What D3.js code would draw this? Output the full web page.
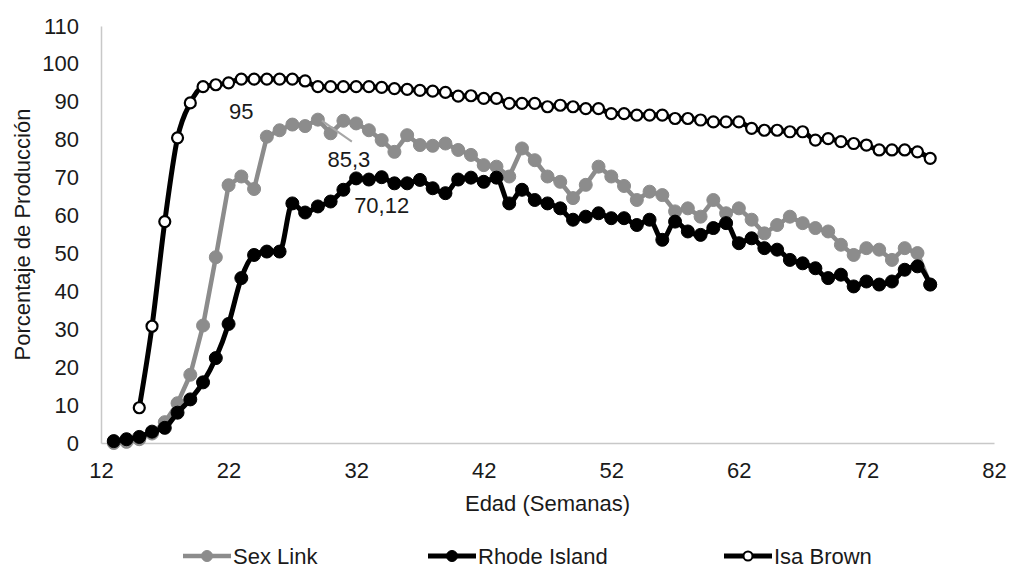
<!DOCTYPE html>
<html>
<head>
<meta charset="utf-8">
<script src="https://cdn.jsdelivr.net/npm/d3@7"></script>
<style>
  body { margin: 0; background: #fff; }
  svg text { font-family: "Liberation Sans", Arial, sans-serif; fill: #1a1a1a; }
</style>
</head>
<body>
<svg id="chart" width="1012" height="569"></svg>
<script>
// weeks of age for each series
const weeksSexLink = d3.range(13, 78);
const weeksRhode = d3.range(13, 78);
const weeksIsa = d3.range(15, 78);

const sexLink = [0, 0.3, 1, 2.5, 5.5, 10.5, 18, 31, 49, 68, 70.3, 67, 80.8, 82.5, 84, 83.6, 85.3, 81.7, 85, 84.3,
  82.5, 79.9, 76.8, 81.2, 78.6, 78.4, 79, 77.3, 76, 73.3, 72.9, 70.3, 77.7, 74.6, 70.3, 68.9, 64.6, 68.1, 72.9, 70.3,
  67.8, 64.1, 66.3, 65.4, 61.1, 61.9, 59.7, 64.1, 60.6, 61.9, 58.9, 55.3, 57.5, 59.7, 58, 56.7, 55.8, 52.3, 49.6, 51.4,
  51, 48.3, 51.4, 50.1, 41.8];

const rhodeIsland = [0.5, 1, 1.6, 3, 4, 8, 11.5, 16, 22.4, 31.4, 43.5, 49.6, 50.5, 50.5, 63.2, 60.8, 62.4, 63.7, 66.8, 69.8,
  69.5, 70.12, 68.5, 68.5, 69.4, 67.2, 65.9, 69.5, 70, 68.9, 70, 63.2, 66.8, 64.1, 63.2, 61.9, 58.9, 59.7, 60.6, 59.3,
  59.3, 57.5, 58.9, 53.6, 58.4, 55.8, 54.9, 56.7, 58, 52.7, 54, 51.4, 51, 48.3, 47.4, 46.1, 43.5, 44.4, 41.3, 42.6,
  41.8, 42.6, 45.7, 46.6, 41.8];

const isaBrown = [9.3, 30.8, 58.4, 80.5, 89.7, 94, 94.5, 95, 96, 96, 96, 96, 96, 95.5, 94, 94, 94, 94, 94, 93.8,
  93.5, 93.3, 93, 92.8, 92.5, 91.5, 91.6, 90.9, 90.9, 89.6, 89.6, 89.6, 88.7, 89.1, 88.7, 88.2, 88.2, 86.9, 86.9, 86.5,
  86.5, 86.5, 85.6, 85.6, 85.2, 84.7, 84.7, 84.7, 83, 82.5, 82.5, 82.1, 82.1, 79.9, 80.3, 79.5, 79, 78.6, 77.3, 77.3,
  77.3, 76.8, 75.1];

const xTicks = [12, 22, 32, 42, 52, 62, 72, 82];
const yTicks = d3.range(0, 111, 10);

// data labels: text, series, week
const labelText = ["95", "85,3", "70,12"];
const labelWeek = [23, 29, 34];

const svg = d3.select("#chart");
const gray = "#8c8c8c";

const x = d3.scaleLinear().domain([12, 82]).range([101, 994]);
const y = d3.scaleLinear().domain([0, 110]).range([443, 26]);

// axes
const xAxis = svg.append("g")
  .attr("transform", "translate(0," + y(0) + ")")
  .call(d3.axisBottom(x).tickValues(xTicks).tickSize(0).tickPadding(19));
const yAxis = svg.append("g")
  .attr("transform", "translate(" + x(12) + ",0)")
  .call(d3.axisLeft(y).tickValues(yTicks).tickSize(0).tickPadding(22));

[xAxis, yAxis].forEach(a => {
  a.select(".domain").attr("stroke", "#c8c8c8").attr("stroke-width", 1.5);
  a.selectAll("text").style("font-size", "22px").attr("fill", "#1a1a1a");
});

svg.append("text")
  .attr("x", (x(12) + x(82)) / 2).attr("y", 511)
  .attr("text-anchor", "middle").style("font-size", "22px")
  .text("Edad (Semanas)");

svg.append("text")
  .attr("transform", "translate(30," + (y(0) + y(110)) / 2 + ") rotate(-90)")
  .attr("text-anchor", "middle").style("font-size", "22px")
  .text("Porcentaje de Producción");

function toPoints(weeks, vals) {
  return weeks.map((w, i) => [w, vals[i]]);
}

const series = [
  { name: "Sex Link", pts: toPoints(weeksSexLink, sexLink), stroke: gray, fill: gray, width: 4.5, curve: d3.curveLinear, r: 6.5 },
  { name: "Rhode Island", pts: toPoints(weeksRhode, rhodeIsland), stroke: "#000", fill: "#000", width: 5, curve: d3.curveMonotoneX, r: 6.5 },
  { name: "Isa Brown", pts: toPoints(weeksIsa, isaBrown), stroke: "#000", fill: "#fff", width: 5, curve: d3.curveMonotoneX, r: 5.5 }
];

series.forEach(s => {
  const line = d3.line().x(d => x(d[0])).y(d => y(d[1])).curve(s.curve);
  svg.append("path")
    .datum(s.pts)
    .attr("d", line)
    .attr("fill", "none")
    .attr("stroke", s.stroke)
    .attr("stroke-width", s.width)
    .attr("stroke-linejoin", "round");
  svg.append("g").selectAll("circle")
    .data(s.pts)
    .enter()
    .append("circle")
    .attr("cx", d => x(d[0]))
    .attr("cy", d => y(d[1]))
    .attr("r", s.r)
    .attr("fill", s.fill)
    .attr("stroke", s.stroke)
    .attr("stroke-width", s.fill === "#fff" ? 2.2 : 1);
});

// data labels
const isaPt = series[2].pts.find(d => d[0] === labelWeek[0]);
svg.append("text")
  .attr("x", x(isaPt[0])).attr("y", y(isaPt[1]) + 40)
  .attr("text-anchor", "middle").style("font-size", "22px")
  .text(labelText[0]);

const sexPt = series[0].pts.find(d => d[0] === labelWeek[1]);
svg.append("line")
  .attr("x1", x(sexPt[0]) + 4).attr("y1", y(sexPt[1]) + 1)
  .attr("x2", x(sexPt[0]) + 34).attr("y2", y(sexPt[1]) + 22)
  .attr("stroke", "#a6a6a6").attr("stroke-width", 2);
svg.append("text")
  .attr("x", x(sexPt[0]) + 31).attr("y", y(sexPt[1]) + 47)
  .attr("text-anchor", "middle").style("font-size", "22px")
  .text(labelText[1]);

const rhPt = series[1].pts.find(d => d[0] === labelWeek[2]);
svg.append("text")
  .attr("x", x(rhPt[0])).attr("y", y(rhPt[1]) + 36)
  .attr("text-anchor", "middle").style("font-size", "22px")
  .text(labelText[2]);

// legend
const legendX = [183, 428, 724];
const legend = svg.append("g");
series.forEach((s, i) => {
  const g = legend.append("g").attr("transform", "translate(" + legendX[i] + ",556)");
  g.append("line").attr("x1", 0).attr("x2", 48).attr("y1", 0).attr("y2", 0)
    .attr("stroke", s.stroke).attr("stroke-width", s.width);
  g.append("circle").attr("cx", 24).attr("cy", 0).attr("r", s.r - 1)
    .attr("fill", s.fill).attr("stroke", s.stroke).attr("stroke-width", s.fill === "#fff" ? 2 : 1);
  g.append("text").attr("x", 50).attr("y", 8).style("font-size", "22px").text(s.name);
});
</script>
</body>
</html>
